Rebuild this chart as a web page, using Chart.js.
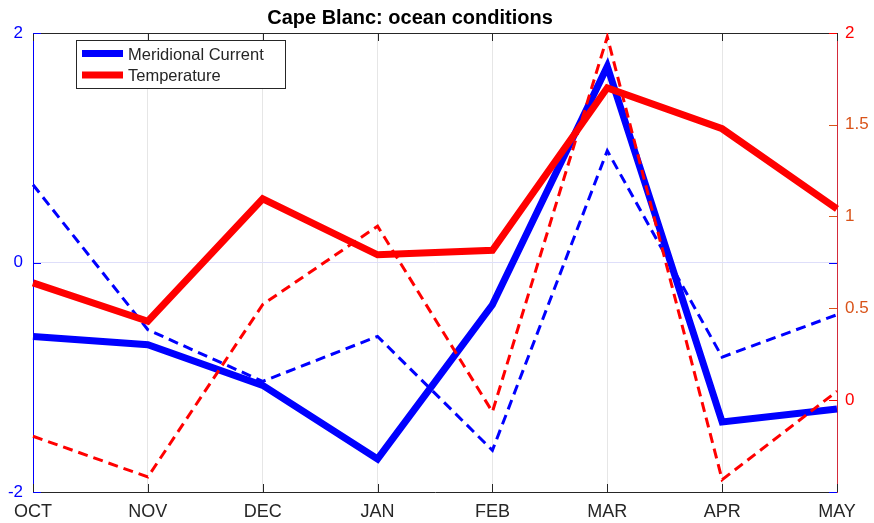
<!DOCTYPE html>
<html>
<head>
<meta charset="utf-8">
<script src="https://cdn.jsdelivr.net/npm/chart.js@4/dist/chart.umd.min.js"></script>
<style>
  html, body { margin: 0; padding: 0; background: #ffffff; }
  canvas { display: block; }
</style>
</head>
<body>
<canvas id="chart" width="874" height="523"></canvas>
<script>
// Monthly series, October through May
const months = ['OCT', 'NOV', 'DEC', 'JAN', 'FEB', 'MAR', 'APR', 'MAY'];
const currentSolid = [-0.644, -0.716, -1.071, -1.712, -0.368, 1.709, -1.390, -1.277];
const currentDashed = [0.678, -0.586, -1.036, -0.644, -1.637, 0.974, -0.824, -0.455];
const temperatureSolid = [0.638, 0.429, 1.096, 0.791, 0.816, 1.701, 1.478, 1.041];
const temperatureDashed = [-0.198, -0.420, 0.520, 0.947, -0.065, 1.979, -0.435, 0.047];

// Axis ticks and limits
const currentTicks = [-2, 0, 2];
const temperatureTicks = [0, 0.5, 1, 1.5, 2];
const currentRange = [-2, 2];
const temperatureRange = [-0.502, 2];

const FONT = "'Liberation Sans', Arial, Helvetica, sans-serif";
const BLUE = '#0000ff';
const RED = '#ff0000';
const ORANGE = '#d95319';
const DARK = '#262626';

Chart.defaults.font.family = FONT;

// Title centred above the plot
const titlePlugin = {
  id: 'plotTitle',
  afterDraw(chart) {
    const ctx = chart.ctx;
    ctx.save();
    ctx.font = 'bold 20px ' + FONT;
    ctx.fillStyle = '#000000';
    ctx.textAlign = 'center';
    ctx.textBaseline = 'alphabetic';
    ctx.fillText('Cape Blanc: ocean conditions', 410, 24);
    ctx.restore();
  }
};

// Boxed legend in the upper-left corner of the plot
const boxLegend = {
  id: 'boxLegend',
  afterDraw(chart) {
    const ctx = chart.ctx;
    const ds = chart.data.datasets;
    const entries = ['Meridional Current', 'Temperature']
      .map(name => ds.find(d => d.label === name));
    const x0 = 76.5, y0 = 40.5, w = 209, h = 48;
    ctx.save();
    ctx.fillStyle = '#ffffff';
    ctx.fillRect(x0, y0, w, h);
    ctx.strokeStyle = DARK;
    ctx.lineWidth = 1;
    ctx.strokeRect(x0, y0, w, h);
    ctx.font = '16.5px ' + FONT;
    ctx.textAlign = 'left';
    ctx.textBaseline = 'alphabetic';
    entries.forEach((d, i) => {
      const cy = 53.5 + i * 21.5;
      ctx.strokeStyle = d.borderColor;
      ctx.lineWidth = 7;
      ctx.lineCap = 'butt';
      ctx.beginPath();
      ctx.moveTo(82, cy);
      ctx.lineTo(123, cy);
      ctx.stroke();
      ctx.fillStyle = DARK;
      ctx.fillText(d.label, 128, cy + 6);
    });
    ctx.restore();
  }
};

// Top frame line and inward tick marks on all four sides
const frameTicks = {
  id: 'frameTicks',
  beforeDatasetsDraw(chart) {
    const ctx = chart.ctx;
    const a = chart.chartArea;
    const xs = chart.scales.x, yl = chart.scales.y, yr = chart.scales.y1;
    const len = 8;
    ctx.save();
    ctx.lineWidth = 1;
    // top frame
    ctx.strokeStyle = DARK;
    ctx.beginPath();
    ctx.moveTo(a.left, Math.round(a.top) + 0.5);
    ctx.lineTo(a.right, Math.round(a.top) + 0.5);
    ctx.stroke();
    // category ticks, top and bottom
    xs.ticks.forEach((t, i) => {
      const px = Math.round(xs.getPixelForTick(i)) + 0.5;
      ctx.beginPath();
      ctx.moveTo(px, a.top);
      ctx.lineTo(px, a.top + len);
      ctx.moveTo(px, a.bottom);
      ctx.lineTo(px, a.bottom - len);
      ctx.stroke();
    });
    // left axis ticks, both sides
    ctx.strokeStyle = BLUE;
    currentTicks.forEach(v => {
      const py = Math.round(yl.getPixelForValue(v)) + 0.5;
      ctx.beginPath();
      ctx.moveTo(a.left, py);
      ctx.lineTo(a.left + len, py);
      ctx.moveTo(a.right, py);
      ctx.lineTo(a.right - len, py);
      ctx.stroke();
    });
    // right axis ticks
    temperatureTicks.forEach(v => {
      const py = Math.round(yr.getPixelForValue(v)) + 0.5;
      ctx.strokeStyle = (v === 0 || v === 2) ? RED : ORANGE;
      ctx.beginPath();
      ctx.moveTo(a.right, py);
      ctx.lineTo(a.right - len, py);
      ctx.stroke();
    });
    ctx.restore();
  }
};

new Chart(document.getElementById('chart'), {
  type: 'line',
  data: {
    labels: months,
    datasets: [
      {
        label: 'Temperature (dashed)',
        data: temperatureDashed,
        yAxisID: 'y1',
        borderColor: RED,
        borderWidth: 3,
        borderDash: [10, 6],
        order: 0
      },
      {
        label: 'Temperature',
        data: temperatureSolid,
        yAxisID: 'y1',
        borderColor: RED,
        borderWidth: 7,
        order: 1
      },
      {
        label: 'Meridional Current (dashed)',
        data: currentDashed,
        yAxisID: 'y',
        borderColor: BLUE,
        borderWidth: 3,
        borderDash: [10, 6],
        order: 2
      },
      {
        label: 'Meridional Current',
        data: currentSolid,
        yAxisID: 'y',
        borderColor: BLUE,
        borderWidth: 7,
        order: 3
      }
    ].map(d => Object.assign({
      fill: false,
      tension: 0,
      pointRadius: 0,
      pointHoverRadius: 0,
      borderJoinStyle: 'miter',
      borderCapStyle: 'butt'
    }, d))
  },
  options: {
    responsive: false,
    animation: false,
    devicePixelRatio: 1,
    layout: { padding: { top: 33, left: 0, right: 0, bottom: 0 } },
    plugins: {
      legend: { display: false },
      title: { display: false },
      tooltip: { enabled: false }
    },
    scales: {
      x: {
        type: 'category',
        offset: false,
        grid: {
          drawTicks: false,
          lineWidth: 1,
          color: ctx => (ctx.index === 0 || ctx.index === months.length - 1) ? 'rgba(0,0,0,0)' : '#e6e6e6'
        },
        border: { color: DARK, width: 1 },
        ticks: { color: DARK, font: { size: 18 }, padding: 9, maxRotation: 0, autoSkip: false },
        afterFit(s) { s.height = 31; }
      },
      y: {
        position: 'left',
        min: currentRange[0],
        max: currentRange[1],
        afterBuildTicks(s) { s.ticks = currentTicks.map(v => ({ value: v })); },
        grid: {
          drawTicks: false,
          lineWidth: 1,
          color: ctx => (ctx.tick && ctx.tick.value === 0) ? '#dedefa' : 'rgba(0,0,0,0)'
        },
        border: { color: BLUE, width: 1 },
        ticks: { color: BLUE, font: { size: 17 }, padding: 10, callback: v => String(v) },
        afterFit(s) { s.width = 33; }
      },
      y1: {
        position: 'right',
        min: temperatureRange[0],
        max: temperatureRange[1],
        afterBuildTicks(s) { s.ticks = temperatureTicks.map(v => ({ value: v })); },
        grid: { display: false, drawTicks: false, drawOnChartArea: false },
        border: { display: true, color: '#d42a3a', width: 1 },
        ticks: {
          font: { size: 17 },
          padding: 8,
          color: ctx => (ctx.tick && (ctx.tick.value === 0 || ctx.tick.value === 2)) ? RED : ORANGE,
          callback: v => String(v)
        },
        afterFit(s) { s.width = 37; }
      }
    }
  },
  plugins: [frameTicks, titlePlugin, boxLegend]
});
</script>
</body>
</html>
